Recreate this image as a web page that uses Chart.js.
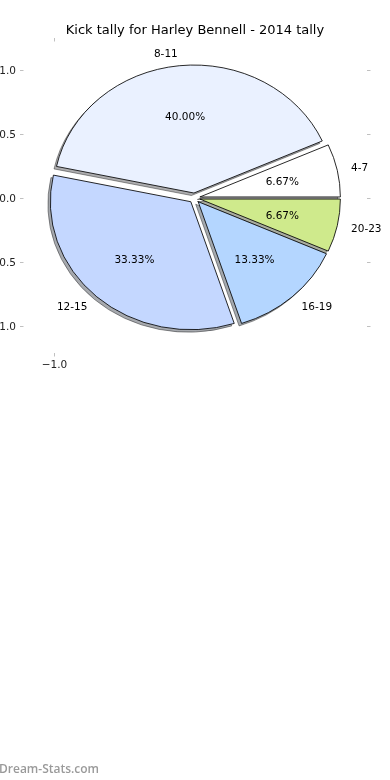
<!DOCTYPE html>
<html>
<head>
<meta charset="utf-8">
<script src="https://cdn.jsdelivr.net/npm/chart.js@4.4.1/dist/chart.umd.min.js"></script>
<style>
  html, body { margin: 0; padding: 0; background: #ffffff; }
  #wrap { position: relative; width: 390px; height: 780px; }
</style>
</head>
<body>
<div id="wrap"><canvas id="c" width="390" height="780"></canvas></div>
<script>
// ---- data (drawn in Chart.js clockwise order starting at east) ----
const chartTitle = 'Kick tally for Harley Bennell - 2014 tally';
const categories = ['20-23', '16-19', '12-15', '8-11', '4-7'];
const kickCounts = [1, 2, 5, 6, 1];
const sliceColors = ['#cfea8c', '#b4d6ff', '#c4d7ff', '#eaf1ff', '#ffffff'];
const explodeOffsets = [5, 5, 5, 5, 5];
const yTickValues = [1.0, 0.5, 0.0, -0.5, -1.0];
const xTickValues = [-1.0];
const watermark = 'Dream-Stats.com';

const CX = 194.5, CY = 198, RY = 128, RX = 140.5;
const SX = RX / RY;
const FONT = '"DejaVu Sans", sans-serif';

function fmtTick(v) {
  const s = Math.abs(v).toFixed(1);
  return v < 0 ? '\u2212' + s : s;
}

function drawWedge(ctx, a, i, dx, dy) {
  const mid = (a.startAngle + a.endAngle) / 2;
  const off = explodeOffsets[i];
  ctx.save();
  ctx.translate(CX, CY); ctx.scale(SX, 1); ctx.translate(-CX, -CY);
  ctx.translate(Math.cos(mid) * off + dx / SX, Math.sin(mid) * off + dy);
  a.draw(ctx);
  ctx.restore();
}

const ellipsePlugin = {
  id: 'ellipse',
  beforeDatasetsDraw(chart) {
    const ctx = chart.ctx;
    const meta = chart.getDatasetMeta(0);
    ctx.save();
    ctx.globalAlpha = 0.45;
    ctx.filter = 'brightness(0.3)';
    meta.data.forEach((a, i) => drawWedge(ctx, a, i, -2.5, 2.5));
    ctx.restore();
    meta.data.forEach((a, i) => drawWedge(ctx, a, i, 0, 0));
    return false;
  },
  afterDraw(chart) {
    const ctx = chart.ctx;
    const meta = chart.getDatasetMeta(0);
    const data = chart.data.datasets[0].data;
    const total = data.reduce((s, v) => s + v, 0);
    ctx.save();
    ctx.fillStyle = '#000';
    ctx.font = '10.5px ' + FONT;
    ctx.textBaseline = 'middle';
    meta.data.forEach((a, i) => {
      const mid = (a.startAngle + a.endAngle) / 2;
      const off = explodeOffsets[i];
      const ex = CX + Math.cos(mid) * off * SX;
      const ey = CY + Math.sin(mid) * off + 1;
      const lx = ex + Math.cos(mid) * RX * 1.1;
      const ly = ey + Math.sin(mid) * RY * 1.1;
      ctx.textAlign = Math.cos(mid) >= 0 ? 'left' : 'right';
      ctx.fillText(chart.data.labels[i], lx, ly);
      const px = ex + Math.cos(mid) * RX * 0.6;
      const py = ey + Math.sin(mid) * RY * 0.6;
      ctx.textAlign = 'center';
      ctx.fillText((data[i] / total * 100).toFixed(2) + '%', px, py);
    });

    ctx.font = '13px ' + FONT;
    ctx.fillText(chartTitle, 195, 30.5);
    ctx.strokeStyle = '#c0c0c0';
    ctx.lineWidth = 1;
    ctx.font = '10.5px ' + FONT;
    yTickValues.forEach(v => {
      const y = Math.round(CY - v * RY) + 0.5;
      ctx.beginPath(); ctx.moveTo(20, y); ctx.lineTo(23.5, y); ctx.stroke();
      ctx.beginPath(); ctx.moveTo(367, y); ctx.lineTo(370.5, y); ctx.stroke();
      ctx.fillStyle = '#222';
      ctx.textAlign = 'right';
      ctx.fillText(fmtTick(v), 16, y + 0.5);
    });
    xTickValues.forEach(v => {
      const x = Math.round(CX + v * RX) + 0.5;
      ctx.beginPath(); ctx.moveTo(x, 38); ctx.lineTo(x, 41.5); ctx.stroke();
      ctx.beginPath(); ctx.moveTo(x, 353); ctx.lineTo(x, 356.5); ctx.stroke();
      ctx.fillStyle = '#222';
      ctx.textAlign = 'center';
      ctx.fillText(fmtTick(v), x, 365.5);
    });
    ctx.fillStyle = '#9a9a9a';
    ctx.font = '600 12px "Open Sans", sans-serif';
    ctx.textAlign = 'left';
    ctx.fillText(watermark, -1, 770);
    ctx.restore();
  }
};

new Chart(document.getElementById('c'), {
  type: 'pie',
  data: {
    labels: categories,
    datasets: [{
      data: kickCounts,
      backgroundColor: sliceColors,
      borderColor: '#000',
      borderWidth: 0.8,
      borderJoinStyle: 'miter',
      radius: RY
    }]
  },
  options: {
    responsive: false,
    animation: false,
    rotation: 90,
    layout: { padding: { left: 47, right: 48, top: 60, bottom: 444 } },
    plugins: { legend: { display: false }, tooltip: { enabled: false }, title: { display: false } },
    events: []
  },
  plugins: [ellipsePlugin]
});
</script>
</body>
</html>
